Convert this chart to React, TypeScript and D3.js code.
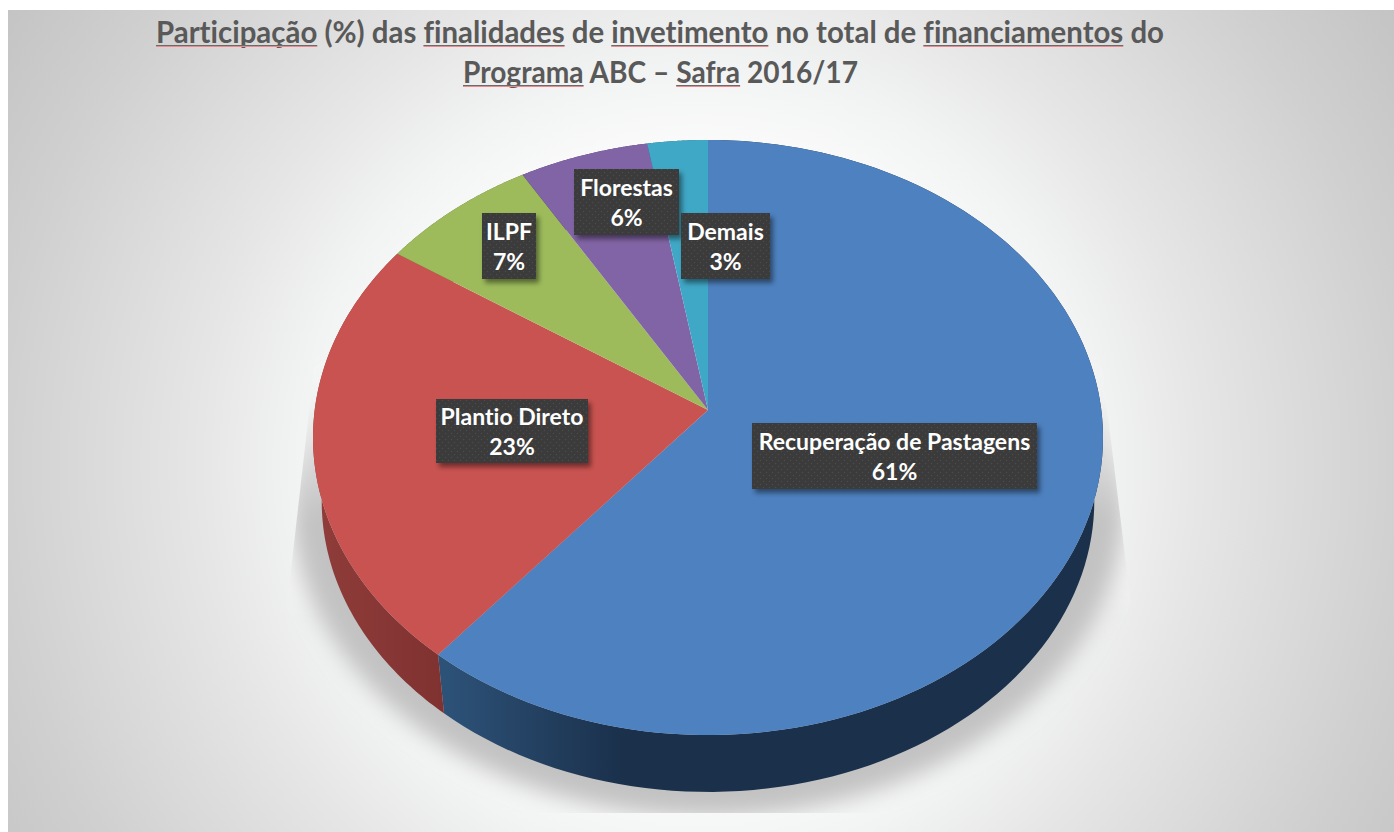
import React, { useEffect, useRef } from 'react';
import * as d3 from 'd3';

const width = 1394;
const height = 832;

const categories = ['Recuperação de Pastagens', 'Plantio Direto', 'ILPF', 'Florestas', 'Demais'];
// estimated from the slice boundaries, the labels show them rounded
const values = [61, 23.4, 7.1, 5.8, 2.7];
const colors = ['#4e81c0', '#c95350', '#9dbb5b', '#8164a5', '#3fa8c6'];
const wallColors = [
  ['#2d5278', '#1a304b'],
  ['#8f3c3a', '#7f3230'],
  ['#5e7036', '#5e7036'],
  ['#4d3c63', '#4d3c63'],
  ['#256577', '#256577'],
];

// label boxes were placed by hand in the original chart
const labelCx = [894.5, 512, 509, 626.5, 725.5];
const labelCy = [456, 431, 246, 202, 246];
const labelW = [285, 152, 54, 105, 89];
const labelH = [66, 64, 66, 66, 66];

const titleLines = [
  'Participação (%) das finalidades de invetimento no total de financiamentos do',
  'Programa ABC – Safra 2016/17',
];
const titleX = [156, 463];
const titleLen = [1008, 395];
const titleY = [43, 83];
const misspelled = ['Participação', 'finalidades', 'invetimento', 'financiamentos', 'Programa', 'Safra'];

// background falloff, by distance from the middle of the picture
const bgStops: [number, string][] = [
  [0, '#ffffff'], [290, '#fdfdfd'], [400, '#f2f3f3'], [500, '#e6e6e6'],
  [600, '#dbdbdb'], [700, '#d0d0d0'], [840, '#c3c3c3'],
];

// projection of the tilted disc: top face and the smaller, lower base
const cx = 708;
const k = 0.0925;
const rx0 = 393.3;
const ry0 = 295;
const topY = 410;
const baseY = 474;
const baseScale = 0.978;

const project = (angle: number, r = 1, y0 = topY, s = 1): [number, number] => {
  const u = Math.sin(angle) * r;
  const v = Math.cos(angle) * r;
  const den = 1 + k * v;
  return [cx + (s * rx0 * u) / den, y0 - (s * ry0 * v) / den];
};

const arcPoints = (a0: number, a1: number, y0 = topY, s = 1) =>
  d3.range(0, 121).map((i) => project(a0 + ((a1 - a0) * i) / 120, 1, y0, s));

const App = () => {
  const svgRef = useRef<SVGSVGElement>(null);

  useEffect(() => {
    const svg = d3.select(svgRef.current);
    svg.selectAll('*').remove();
    const defs = svg.append('defs');

    const bgRadius = bgStops[bgStops.length - 1][0];
    const bg = defs.append('radialGradient').attr('id', 'bg')
      .attr('gradientUnits', 'userSpaceOnUse')
      .attr('cx', 700).attr('cy', 465).attr('r', bgRadius);
    bgStops.forEach(([o, c]) => bg.append('stop').attr('offset', o / bgRadius).attr('stop-color', c));

    const blur = defs.append('filter').attr('id', 'soft')
      .attr('filterUnits', 'userSpaceOnUse')
      .attr('x', 0).attr('y', 0).attr('width', width).attr('height', height);
    blur.append('feGaussianBlur').attr('stdDeviation', 11);

    const drop = defs.append('filter').attr('id', 'boxShadow')
      .attr('x', '-20%').attr('y', '-20%').attr('width', '140%').attr('height', '140%');
    drop.append('feDropShadow').attr('dx', 3).attr('dy', 4).attr('stdDeviation', 2.5)
      .attr('flood-color', '#000').attr('flood-opacity', 0.45);

    const dots = defs.append('pattern').attr('id', 'dots')
      .attr('patternUnits', 'userSpaceOnUse').attr('width', 6).attr('height', 6);
    dots.append('rect').attr('width', 6).attr('height', 6).attr('fill', '#3a3a3a');
    dots.append('circle').attr('cx', 1.5).attr('cy', 1.5).attr('r', 0.8).attr('fill', '#4b4b4b');
    dots.append('circle').attr('cx', 4.5).attr('cy', 4.5).attr('r', 0.8).attr('fill', '#4b4b4b');

    svg.append('rect').attr('x', 8).attr('y', 10)
      .attr('width', width - 8).attr('height', height - 10).attr('fill', 'url(#bg)');

    const pie = d3.pie<number>().sort(null)(values);
    const line = d3.line();

    // cast shadow: cut by a flared outline and a flat bottom edge
    const outlineLeft: [number, number][] = [[316, 350], [287, 605], [287, 813]];
    const outlineRight: [number, number][] = [[1131, 813], [1131, 605], [1100, 350]];
    const outline = `${line([...outlineLeft, ...outlineRight])}Z`;
    defs.append('clipPath').attr('id', 'shadowClip').append('path').attr('d', outline);

    const glow = defs.append('linearGradient').attr('id', 'glow')
      .attr('gradientUnits', 'userSpaceOnUse')
      .attr('x1', 0).attr('x2', 0).attr('y1', 350).attr('y2', 620);
    glow.append('stop').attr('offset', 0).attr('stop-color', '#fff').attr('stop-opacity', 0);
    glow.append('stop').attr('offset', 0.35).attr('stop-color', '#fff').attr('stop-opacity', 0.55);
    glow.append('stop').attr('offset', 0.75).attr('stop-color', '#fff').attr('stop-opacity', 0.4);
    glow.append('stop').attr('offset', 1).attr('stop-color', '#fff').attr('stop-opacity', 0);
    svg.append('path').attr('d', outline).attr('fill', 'url(#glow)');

    const shade = defs.append('linearGradient').attr('id', 'shade')
      .attr('gradientUnits', 'userSpaceOnUse')
      .attr('x1', 0).attr('x2', 0).attr('y1', 370).attr('y2', 520);
    shade.append('stop').attr('offset', 0).attr('stop-color', '#c2c2c2').attr('stop-opacity', 0);
    shade.append('stop').attr('offset', 1).attr('stop-color', '#c2c2c2').attr('stop-opacity', 1);
    svg.append('g').attr('clip-path', 'url(#shadowClip)')
      .append('path')
      .attr('d', `${line(arcPoints(0, 2 * Math.PI, baseY, 1.055))}Z`)
      .attr('fill', 'url(#shade)')
      .attr('filter', 'url(#soft)');

    // side wall
    pie.forEach((d, i) => {
      const grad = defs.append('linearGradient').attr('id', `wall${i}`)
        .attr('gradientUnits', 'userSpaceOnUse')
        .attr('x1', i === 0 ? 445 : 320).attr('x2', i === 0 ? 625 : 445)
        .attr('y1', 0).attr('y2', 0);
      grad.append('stop').attr('offset', 0).attr('stop-color', wallColors[i][0]);
      grad.append('stop').attr('offset', 1).attr('stop-color', wallColors[i][1]);
      const outer = arcPoints(d.startAngle, d.endAngle);
      const lower = arcPoints(d.startAngle, d.endAngle, baseY, baseScale).reverse();
      svg.append('path')
        .attr('d', `${line([...outer, ...lower])}Z`)
        .attr('fill', `url(#wall${i})`);
    });

    // top face
    pie.forEach((d, i) => {
      svg.append('path')
        .attr('d', `${line([[cx, topY], ...arcPoints(d.startAngle, d.endAngle)])}Z`)
        .attr('fill', colors[i]);
    });

    // labels
    categories.forEach((name, i) => {
      const g = svg.append('g');
      g.append('rect')
        .attr('x', labelCx[i] - labelW[i] / 2).attr('y', labelCy[i] - labelH[i] / 2)
        .attr('width', labelW[i]).attr('height', labelH[i])
        .attr('fill', 'url(#dots)').attr('filter', 'url(#boxShadow)');
      const text = g.append('text')
        .attr('text-anchor', 'middle')
        .attr('font-family', 'Lato')
        .attr('font-weight', 700)
        .attr('font-size', 23)
        .attr('fill', '#ffffff')
        .style('font-variant-ligatures', 'none');
      text.append('tspan').attr('x', labelCx[i]).attr('y', labelCy[i] - 6).text(name);
      text.append('tspan').attr('x', labelCx[i]).attr('y', labelCy[i] + 24)
        .text(`${Math.round(values[i])}%`);
    });

    // title, with the spell checker's underlines it was captured with
    titleLines.forEach((str, i) => {
      const text = svg.append('text')
        .attr('x', titleX[i]).attr('y', titleY[i])
        .attr('font-family', 'Lato').attr('font-weight', 700).attr('font-size', 31)
        .attr('fill', '#595959')
        .attr('textLength', titleLen[i]).attr('lengthAdjust', 'spacingAndGlyphs')
        .style('font-variant-ligatures', 'none')
        .text(str);
      const node = text.node() as SVGTextElement;
      misspelled.forEach((word) => {
        const at = str.indexOf(word);
        if (at < 0) return;
        const x0 = node.getStartPositionOfChar(at).x;
        const x1 = node.getEndPositionOfChar(at + word.length - 1).x;
        svg.append('line').attr('x1', x0).attr('x2', x1)
          .attr('y1', titleY[i] + 2.5).attr('y2', titleY[i] + 2.5)
          .attr('stroke', '#6b6b6b').attr('stroke-width', 1);
        svg.append('line').attr('x1', x0).attr('x2', x1)
          .attr('y1', titleY[i] + 3.5).attr('y2', titleY[i] + 3.5)
          .attr('stroke', '#ea8a90').attr('stroke-width', 1);
      });
    });
  }, []);

  return (
    <svg
      ref={svgRef}
      width={width}
      height={height}
      style={{ position: 'absolute', left: 0, top: 0, background: '#fff' }}
    />
  );
};

export default App;
